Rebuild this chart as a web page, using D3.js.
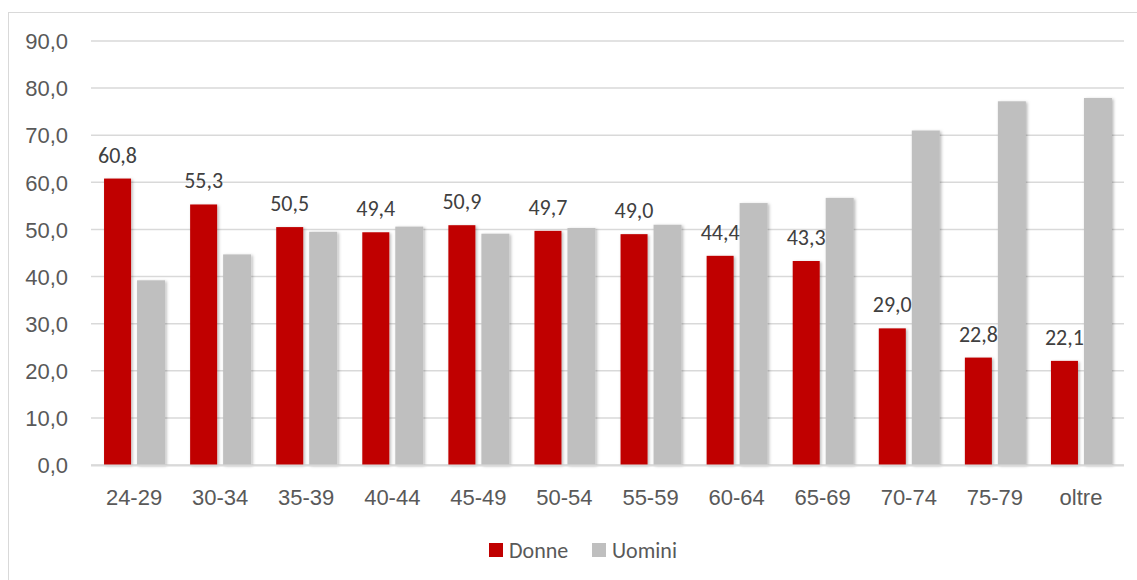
<!DOCTYPE html>
<html><head><meta charset="utf-8">
<script src="https://cdn.jsdelivr.net/npm/d3@7"></script>
<style>body{margin:0;background:#fff;} svg{display:block;font-family:Carlito,Calibri,Lato,"Open Sans",sans-serif;}</style>
</head><body><svg id="c" width="1137" height="580"></svg>
<script>
const categories = ["24-29","30-34","35-39","40-44","45-49","50-54","55-59","60-64","65-69","70-74","75-79","oltre"];
const donne = [60.8,55.3,50.5,49.4,50.9,49.7,49.0,44.4,43.3,29.0,22.8,22.1];
const uomini = [39.2,44.7,49.5,50.6,49.1,50.3,51.0,55.6,56.7,71.0,77.2,77.9];
const yTicks = [0,10,20,30,40,50,60,70,80,90];
const seriesNames = ["Donne","Uomini"];
const colors = ["#C00000","#BFBFBF"];

const svg = d3.select("#c");
const fmt = v => d3.format(".1f")(v).replace(".", ",");
svg.append("rect").attr("x",8.5).attr("y",12.5).attr("width",1140).attr("height",580).attr("fill","#fff").attr("stroke","#d9d9d9");

const defs = svg.append("defs");
const f = defs.append("filter").attr("id","sh").attr("x","-30%").attr("y","-10%").attr("width","160%").attr("height","120%");
f.append("feDropShadow").attr("dx",1.5).attr("dy",1).attr("stdDeviation",1.6).attr("flood-color","#000").attr("flood-opacity",0.28);

const x = d3.scaleBand().domain(categories).range([91,1124]);
const y = d3.scaleLinear().domain([0,90]).range([465,41]);

const g = svg.append("g");
g.selectAll("line.grid").data(yTicks).join("line")
  .attr("x1",91).attr("x2",1124).attr("y1",d=>y(d)).attr("y2",d=>y(d))
  .attr("stroke","#d9d9d9").attr("stroke-width",1.5);

const yAxis = d3.axisLeft(y).tickValues(yTicks).tickFormat(fmt).tickSize(0).tickPadding(0);
const ya = svg.append("g").attr("transform","translate(68,0)").call(yAxis);
ya.select(".domain").remove();
ya.selectAll("text").attr("font-size",22).attr("fill","#595959").attr("font-family",null).attr("dy","0.35em");

const bw = 27;
svg.append("g").selectAll("rect").data(donne).join("rect")
  .attr("x",(d,i)=>x(categories[i])+x.bandwidth()/2-30).attr("width",bw)
  .attr("y",d=>y(d)).attr("height",d=>y(0)-y(d)).attr("fill",colors[0]).attr("filter","url(#sh)");
svg.append("g").selectAll("rect").data(uomini).join("rect")
  .attr("x",(d,i)=>x(categories[i])+x.bandwidth()/2+3).attr("width",bw+1)
  .attr("y",d=>y(d)).attr("height",d=>y(0)-y(d)).attr("fill",colors[1]).attr("filter","url(#sh)");

svg.append("line").attr("x1",91).attr("x2",1124).attr("y1",y(0)+0.5).attr("y2",y(0)+0.5).attr("stroke","#d9d9d9").attr("stroke-width",2);

svg.append("g").selectAll("text").data(donne).join("text")
  .attr("x",(d,i)=>x(categories[i])+x.bandwidth()/2-16.5).attr("y",d=>y(d)-16)
  .attr("text-anchor","middle").attr("font-size",22).attr("fill","#404040").text(fmt);

const xAxis = d3.axisBottom(x).tickSize(0).tickPadding(0);
const xa = svg.append("g").attr("transform","translate(0,497)").call(xAxis);
xa.select(".domain").remove();
xa.selectAll("text").attr("font-size",22).attr("fill","#595959").attr("font-family",null).attr("dy","0.35em");

const legX = [489,592];
const leg = svg.append("g");
seriesNames.forEach((n,i)=>{
  leg.append("rect").attr("x",legX[i]).attr("y",543).attr("width",14).attr("height",14).attr("fill",colors[i]);
  leg.append("text").attr("x",legX[i]+20).attr("y",550).attr("dy","0.35em").attr("font-size",22).attr("fill","#595959").text(n);
});
</script></body></html>
